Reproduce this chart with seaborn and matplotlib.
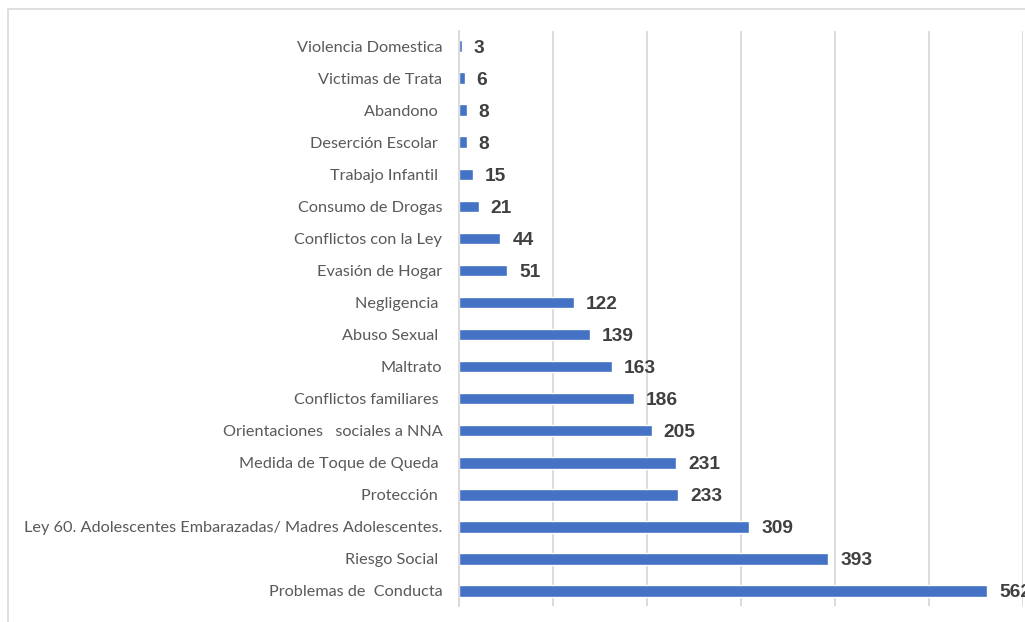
import matplotlib
matplotlib.use("Agg")
import matplotlib.pyplot as plt
import pandas as pd
import seaborn as sns
from matplotlib.patches import Rectangle

categories = [
    "Violencia Domestica", "Victimas de Trata", "Abandono ", "Deserción Escolar ",
    "Trabajo Infantil ", "Consumo de Drogas", "Conflictos con la Ley", "Evasión de Hogar",
    "Negligencia ", "Abuso Sexual ", "Maltrato", "Conflictos familiares ",
    "Orientaciones   sociales a NNA", "Medida de Toque de Queda ", "Protección ",
    "Ley 60. Adolescentes Embarazadas/ Madres Adolescentes.", "Riesgo Social ",
    "Problemas de  Conducta",
]
values = [3, 6, 8, 8, 15, 21, 44, 51, 122, 139, 163, 186, 205, 231, 233, 309, 393, 562]

df = pd.DataFrame({"cat": categories, "val": values})

sns.set_style("white")
plt.rcParams['font.family'] = ['Lato', 'DejaVu Sans']

fig = plt.figure(figsize=(10.25, 6.22), dpi=100)
ax = fig.add_axes([459 / 1025, 1 - 606 / 622, (1023 - 459) / 1025, (606 - 31) / 622])

# outer chart frame
fig.patches.append(Rectangle((8 / 1025, -0.1), 1.2, 1 - 9 / 622 + 0.1, transform=fig.transFigure,
                             fill=False, edgecolor="#d9d9d9", linewidth=1.2))

sns.barplot(data=df, x="val", y="cat", color="#4472C4", width=0.36, ax=ax, saturation=1)

ax.set_xlim(0, 600)
ax.set_ylim(len(categories) - 0.53, -0.47)
ax.set_xticks([0, 100, 200, 300, 400, 500, 600])
ax.xaxis.grid(True, color="#d9d9d9", linewidth=1.3)
ax.set_axisbelow(True)
ax.set_xticklabels([])
ax.tick_params(axis="x", length=0)
ax.tick_params(axis="y", length=0, pad=12, labelsize=11.7, labelcolor="#595959")
ax.set_xlabel("")
ax.set_ylabel("")
for s in ["top", "right", "bottom"]:
    ax.spines[s].set_visible(False)
ax.spines["left"].set_color("#d9d9d9")
ax.spines["left"].set_linewidth(1.3)

# value labels
for i, v in enumerate(values):
    ax.annotate(str(v), (v, i), xytext=(12, -2), textcoords="offset pixels",
                va="center", ha="left", fontsize=13.8, fontweight="bold", color="#404040",
                family=["Liberation Sans", "DejaVu Sans"], annotation_clip=False)

fig.savefig("out.png", dpi=100, facecolor="white")
